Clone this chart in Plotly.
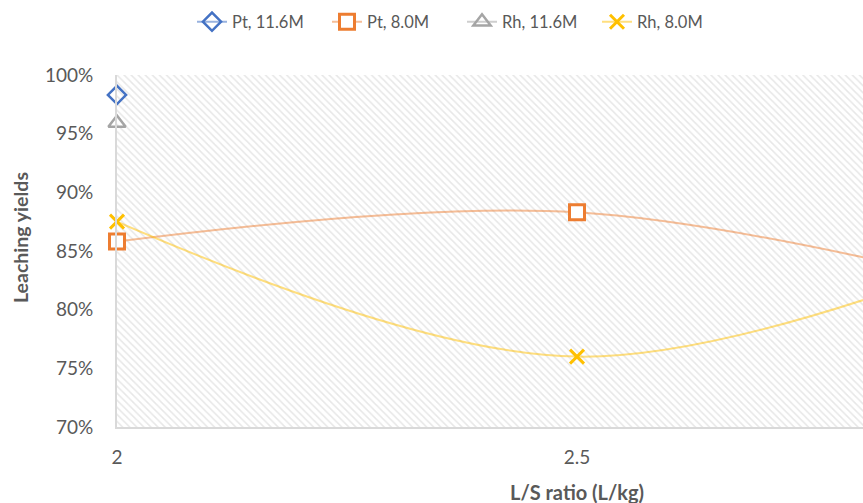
import plotly.graph_objects as go

# L/S ratio categories (the third one runs off the right edge of the plot)
ls_ratio = [2, 2.5, 3]

# Leaching yields (fraction) per metal / acid concentration
pt_116 = [0.983]
rh_116 = [0.959]
pt_80 = [0.858, 0.883, 0.810]
rh_80 = [0.875, 0.760, 0.862]

y_ticks = [0.70, 0.75, 0.80, 0.85, 0.90, 0.95, 1.00]

FONT = "Lato"
TXT = "#595959"
GRID = "#d9d9d9"

x_lo, x_hi = 2.0, 2.0 + (863 - 117) / 920.0

fig = go.Figure()

# hatched plot-area background
fig.add_trace(go.Scatter(
    x=[2.0, 3.2, 3.2, 2.0, 2.0], y=[0.70, 0.70, 1.00, 1.00, 0.70],
    mode="none", fill="toself", fillcolor="white",
    fillpattern=dict(shape="\\", fgcolor="#cfcfcf", bgcolor="white", size=5, solidity=0.3),
    showlegend=False, hoverinfo="skip",
))

series = [
    ("Pt, 11.6M", ls_ratio[:1], pt_116, "rgba(68,114,196,0.55)",
     dict(symbol="diamond-open", size=14, color="#4472C4", line=dict(width=2.5, color="#4472C4"))),
    ("Pt, 8.0M", ls_ratio, pt_80, "rgba(237,125,49,0.5)",
     dict(symbol="square", size=15, color="white", line=dict(width=3, color="#ED7D31"))),
    ("Rh, 11.6M", ls_ratio[:1], rh_116, "rgba(165,165,165,0.55)",
     dict(symbol="triangle-up-open", size=15, color="#A5A5A5", line=dict(width=2.5, color="#A5A5A5"))),
    ("Rh, 8.0M", ls_ratio, rh_80, "rgba(255,192,0,0.5)",
     dict(symbol="x-thin", size=14, color="#FFC000", line=dict(width=3, color="#FFC000"))),
]
for name, xs, ys, lc, mk in series:
    fig.add_trace(go.Scatter(
        x=xs, y=ys, name=name, mode="lines+markers",
        line=dict(color=lc, width=2, shape="spline", smoothing=1),
        marker=mk, cliponaxis=False,
    ))

fig.update_layout(
    width=863, height=503,
    margin=dict(l=117, r=0, t=75, b=76),
    paper_bgcolor="white", plot_bgcolor="white",
    font=dict(family=FONT, color=TXT, size=19),
    legend=dict(orientation="h", x=(192 - 117) / 746, xanchor="left", y=1 + 53 / 352,
                yanchor="middle", font=dict(size=16.5, color=TXT), bgcolor="rgba(0,0,0,0)",
                entrywidth=90, entrywidthmode="pixels"),
    showlegend=True,
)
fig.update_xaxes(
    range=[x_lo, x_hi], tickvals=ls_ratio, ticktext=[str(v) for v in ls_ratio],
    showgrid=True, gridcolor=GRID, gridwidth=2, zeroline=False,
    showline=True, linecolor=GRID, linewidth=2, ticks="", ticklabelstandoff=12,
    tickfont=dict(size=19, color=TXT),
)
fig.update_yaxes(
    range=[0.70, 1.00], tickvals=y_ticks, tickformat=".0%",
    showgrid=True, gridcolor=GRID, gridwidth=2, zeroline=False,
    showline=True, linecolor=GRID, linewidth=2, ticks="", ticklabelstandoff=18,
    tickfont=dict(size=19, color=TXT),
)

# axis titles
fig.add_annotation(text="<b>L/S ratio (L/kg)</b>", x=2.5, xref="x", y=-(492 - 427) / 352, yref="paper",
                   showarrow=False, font=dict(size=20, color=TXT), yanchor="middle")
fig.add_annotation(text="<b>Leaching yields</b>", x=-(117 - 21) / 746, xref="paper", y=(427 - 238) / 352,
                   yref="paper", showarrow=False, textangle=-90, font=dict(size=19.5, color=TXT),
                   xanchor="center", yanchor="middle")

fig.write_html("out.html")
